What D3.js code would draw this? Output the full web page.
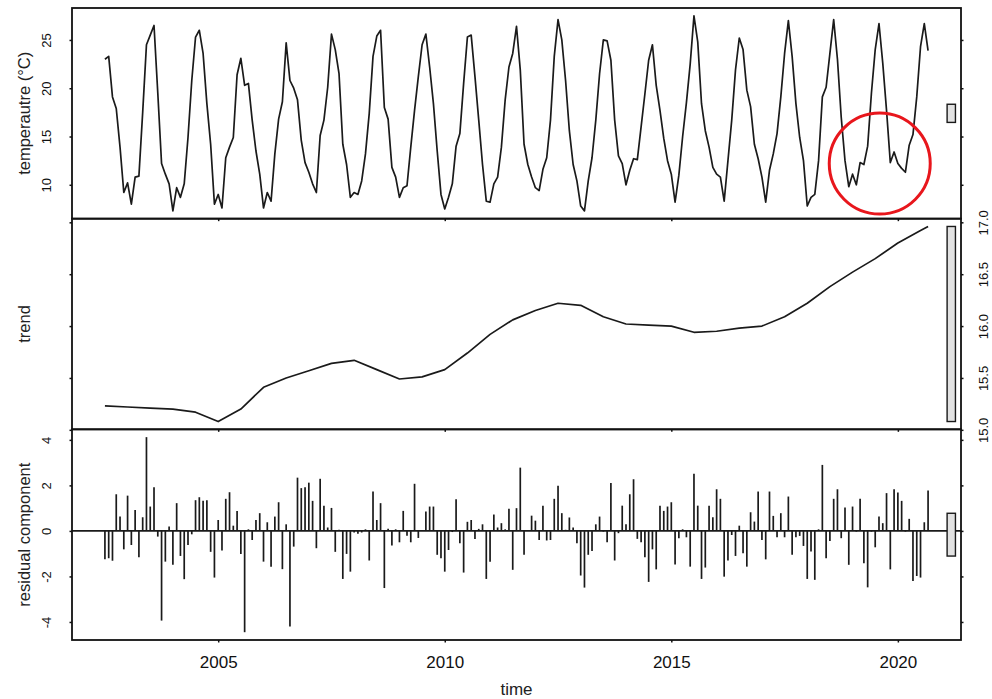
<!DOCTYPE html>
<html>
<head>
<meta charset="utf-8">
<script src="https://cdn.jsdelivr.net/npm/d3@7"></script>
<style>
  body { margin: 0; background: #fff; }
  svg { display: block; }
</style>
</head>
<body>
<div id="chart"></div>
<script>
// Monthly series, July 2002 to September 2020
var seriesStart = 2002.5;

// observed temperature (°C), one value per month
var temperature = [
    23.0, 23.3, 19.1, 17.9, 13.9, 9.2,
    10.2, 8.0, 10.8, 10.9, 17.5, 24.5, 25.5, 26.5, 19.5, 12.2, 11.1, 10.1,
    7.3, 9.7, 8.7, 10.1, 14.9, 20.8, 25.3, 26.0, 23.6, 18.4, 14.2, 8.0,
    9.0, 7.6, 12.8, 13.9, 14.9, 21.4, 23.1, 20.3, 20.5, 16.7, 13.5, 11.1,
    7.6, 9.2, 8.3, 13.2, 16.8, 18.6, 24.7, 20.8, 20.0, 18.8, 14.6, 12.3,
    11.3, 10.1, 9.2, 15.1, 16.7, 20.1, 25.6, 24.0, 21.5, 14.2, 12.1, 8.7,
    9.2, 9.0, 10.4, 13.2, 17.4, 23.3, 25.4, 26.0, 18.0, 16.8, 11.8, 10.8,
    8.7, 9.7, 9.9, 13.9, 17.7, 21.2, 24.5, 25.6, 22.2, 18.4, 13.5, 9.0,
    7.5, 8.7, 10.1, 14.0, 15.3, 20.5, 25.3, 25.5, 21.2, 16.7, 12.1, 8.3,
    8.2, 10.1, 10.8, 13.9, 18.8, 22.2, 23.6, 26.4, 21.9, 14.2, 12.1, 10.8,
    9.7, 9.4, 11.6, 12.8, 16.7, 23.3, 27.1, 25.0, 20.8, 15.6, 12.1, 10.4,
    7.8, 7.3, 10.4, 12.8, 16.7, 21.5, 25.0, 24.9, 22.9, 16.7, 13.0, 12.2,
    10.0, 11.5, 12.7, 12.6, 16.0, 19.4, 22.9, 24.5, 20.3, 17.7, 14.8, 12.5,
    11.1, 8.2, 11.0, 15.0, 18.5, 22.5, 27.5, 24.8, 18.4, 15.6, 13.9, 11.8,
    11.1, 10.8, 8.3, 12.5, 16.7, 21.9, 25.2, 24.0, 19.8, 18.1, 14.2, 12.7,
    10.8, 8.2, 11.5, 13.2, 15.3, 19.1, 23.6, 27.0, 23.3, 18.4, 14.9, 12.5,
    7.8, 8.7, 9.0, 12.5, 19.1, 20.1, 23.6, 27.1, 23.0, 17.0, 12.5, 9.8,
    11.1, 10.0, 12.3, 12.1, 14.0, 19.5, 24.0, 26.7, 22.6, 17.7, 12.3, 13.4,
    12.2, 11.7, 11.3, 14.1, 15.2, 19.1, 24.3, 26.7, 23.9
];

// remainder after removing trend and season, one value per month
var residual = [
    -1.25, -1.20, -1.31, 1.61, 0.63, -0.81,
    1.55, -0.62, 0.92, -1.16, 0.60, 4.12, 1.07, 1.92, -0.25, -3.94, -1.35, 0.19,
    -1.49, 1.22, -1.10, -2.12, -0.62, -0.15, 1.35, 1.48, 1.32, 1.35, -0.92, -2.05,
    0.48, -0.86, 1.41, 1.70, 0.23, 0.88, -1.01, -4.45, 0.07, -0.40, 0.48, 0.78,
    -1.35, 0.38, -1.57, 0.63, 1.26, -1.68, 0.29, -4.20, -0.69, 2.34, 1.88, 1.92,
    2.12, 1.32, -0.76, 2.29, 1.11, 0.15, 1.01, -0.92, 0.05, -2.11, -1.01, -1.79,
    -0.07, -0.13, -0.07, 0.07, -1.30, 1.73, 0.48, 1.22, -2.51, 0.10, -0.64, 0.07,
    -0.50, 0.88, -0.21, -0.50, 2.07, -0.31, 0.04, 0.85, 1.07, 1.07, -1.05, -1.20,
    -1.79, -0.84, -0.05, 1.39, -0.54, -1.83, 0.40, 0.48, -0.35, 0.09, 0.29, -2.11,
    -1.35, 0.72, 0.15, 0.34, 0.07, 0.97, -1.71, 1.00, 2.78, -1.05, 0.02, 0.67,
    0.45, -0.40, 1.11, -0.42, -0.40, 1.41, 1.98, 0.78, 0.05, 0.59, 0.15, -0.54,
    -1.96, -2.49, -1.05, -0.88, 0.29, 0.63, -0.03, -0.50, 2.10, -1.30, -0.10, 1.11,
    0.29, 1.61, 2.27, -0.35, -0.50, -1.16, -2.24, -0.81, -1.69, 1.11, 0.88, 1.07,
    1.26, -1.48, -0.32, 0.07, -0.28, -1.57, 2.51, 1.11, -2.11, -1.61, 1.11, 0.60,
    1.83, 1.41, -2.01, -1.30, -0.18, -1.10, 0.23, -0.98, -1.57, 0.82, 0.41, 1.73,
    -0.40, -1.25, 1.73, 0.66, -0.28, 0.78, -0.28, 1.51, -1.05, -0.28, -0.22, -0.66,
    -2.11, -0.91, -2.15, 0.07, 2.90, -1.20, -0.44, 1.41, 1.83, -0.32, 1.03, -1.49,
    1.07, -0.03, 1.41, -1.42, -2.48, -0.03, -0.72, 0.63, 0.34, 1.66, -1.69, 1.83,
    1.69, 1.32, -0.03, 0.53, -2.20, -1.98, -2.05, 0.38, 1.77
];

// trend read every half year
var trendTime = [2002.5, 2003.0, 2003.5, 2004.0, 2004.5, 2005.0, 2005.5, 2006.0, 2006.5,
    2007.0, 2007.5, 2008.0, 2008.5, 2009.0, 2009.5, 2010.0, 2010.5, 2011.0, 2011.5,
    2012.0, 2012.5, 2013.0, 2013.5, 2014.0, 2014.5, 2015.0, 2015.5, 2016.0, 2016.5,
    2017.0, 2017.5, 2018.0, 2018.5, 2019.0, 2019.5, 2020.0, 2020.5, 2020.667];
var trendValue = [15.23, 15.22, 15.21, 15.20, 15.17, 15.08, 15.20, 15.41, 15.50,
    15.57, 15.64, 15.67, 15.58, 15.49, 15.51, 15.58, 15.74, 15.92, 16.06,
    16.15, 16.22, 16.20, 16.09, 16.02, 16.01, 16.00, 15.94, 15.95, 15.98,
    16.00, 16.09, 16.22, 16.38, 16.52, 16.65, 16.80, 16.92, 16.96];

var yearTicks = [2005, 2010, 2015, 2020];
var tempTicks = [10, 15, 20, 25];
var trendTicks = [15.0, 15.5, 16.0, 16.5, 17.0];
var residTicks = [-4, -2, 0, 2, 4];
var panelLabels = ["temperautre (°C)", "trend", "residual component"];
var xLabel = "time";

// red circle drawn round the winter 2019 dip
var circleTime = 2019.6;
var circleTemp = 12.2;

var svgWidth = 992;
var svgHeight = 699;
var margin = { top: 8, right: 31, bottom: 59, left: 72 };
var plotWidth = svgWidth - margin.left - margin.right;
var panelHeight = (svgHeight - margin.top - margin.bottom) / 3;
var font = "'Liberation Sans', Arial, sans-serif";
var ink = "#1a1a1a";

var svg = d3.select("#chart")
    .append("svg")
    .attr("width", svgWidth)
    .attr("height", svgHeight)
    .style("font-family", font);

// R extends each range by 4% on both sides
function padRange(ext) {
    var d = (ext[1] - ext[0]) * 0.04;
    return [ext[0] - d, ext[1] + d];
}

var time = temperature.map(function (d, i) { return seriesStart + i / 12; });

var xScale = d3.scaleLinear()
    .domain(padRange(d3.extent(time)))
    .range([0, plotWidth]);

var panels = [
    { times: time, values: temperature, ticks: tempTicks, fmt: d3.format("d"), type: "line" },
    { times: trendTime, values: trendValue, ticks: trendTicks, fmt: d3.format(".1f"), type: "line" },
    { times: time, values: residual, ticks: residTicks, fmt: function (d) { return String(d); }, type: "bars" }
];

// range bars all have the height of the smallest component range
var minRange = d3.min(panels, function (p) {
    var e = d3.extent(p.values);
    return e[1] - e[0];
});

panels.forEach(function (p, i) {
    var ext = d3.extent(p.values);
    var yScale = d3.scaleLinear()
        .domain(padRange(ext))
        .range([panelHeight, 0]);

    var g = svg.append("g")
        .attr("transform", `translate(${margin.left}, ${margin.top + i * panelHeight})`);

    if (p.type === "line") {
        var line = d3.line()
            .x(function (d, j) { return xScale(p.times[j]); })
            .y(function (d) { return yScale(d); });
        g.append("path")
            .datum(p.values)
            .attr("d", line)
            .attr("fill", "none")
            .attr("stroke", ink)
            .attr("stroke-width", 1.7)
            .attr("stroke-linejoin", "round");
    } else {
        g.append("line")
            .attr("x1", 0)
            .attr("x2", plotWidth)
            .attr("y1", yScale(0))
            .attr("y2", yScale(0))
            .attr("stroke", ink)
            .attr("stroke-width", 1.8);
        g.selectAll(".bar")
            .data(p.values)
            .enter()
            .append("line")
            .attr("class", "bar")
            .attr("x1", function (d, j) { return xScale(p.times[j]); })
            .attr("x2", function (d, j) { return xScale(p.times[j]); })
            .attr("y1", yScale(0))
            .attr("y2", function (d) { return yScale(d); })
            .attr("stroke", ink)
            .attr("stroke-width", 1.7);
    }

    // range bar at the right edge
    var dx = plotWidth / 64;
    var mid = (ext[0] + ext[1]) / 2;
    g.append("rect")
        .attr("x", plotWidth - dx)
        .attr("width", dx * 0.6)
        .attr("y", yScale(mid + minRange / 2))
        .attr("height", yScale(mid - minRange / 2) - yScale(mid + minRange / 2))
        .attr("fill", "#e2e2e2")
        .attr("stroke", ink)
        .attr("stroke-width", 1.4);

    // frame
    g.append("rect")
        .attr("width", plotWidth)
        .attr("height", panelHeight)
        .attr("fill", "none")
        .attr("stroke", "#111")
        .attr("stroke-width", 1.8);

    var labelsRight = i % 2 === 1;

    var leftAxis = d3.axisLeft(yScale)
        .tickValues(p.ticks)
        .tickSizeInner(2.5).tickSizeOuter(0)
        .tickFormat(labelsRight ? "" : p.fmt);
    var rightAxis = d3.axisRight(yScale)
        .tickValues(p.ticks)
        .tickSizeInner(2.5).tickSizeOuter(0)
        .tickFormat(labelsRight ? p.fmt : "");
    var bottomAxis = d3.axisBottom(xScale)
        .tickValues(yearTicks)
        .tickSizeInner(2.5).tickSizeOuter(0)
        .tickFormat(i === panels.length - 1 ? d3.format("d") : "");

    var gl = g.append("g").call(leftAxis);
    var gr = g.append("g").attr("transform", `translate(${plotWidth}, 0)`).call(rightAxis);
    var gb = g.append("g").attr("transform", `translate(0, ${panelHeight})`).call(bottomAxis);

    [gl, gr, gb].forEach(function (a) {
        a.select(".domain").remove();
        a.selectAll(".tick line").attr("stroke", "#111").attr("stroke-width", 1.5);
        a.selectAll("text").attr("font-family", font).attr("fill", "#111");
    });

    // vertical tick labels, parallel to the axis
    gl.selectAll(".tick text")
        .attr("transform", "rotate(-90)")
        .attr("x", 0).attr("y", -21).attr("dy", 0)
        .attr("text-anchor", "middle")
        .attr("font-size", 13);
    gr.selectAll(".tick text")
        .attr("transform", "rotate(-90)")
        .attr("x", 0).attr("y", 27).attr("dy", 0)
        .attr("text-anchor", "middle")
        .attr("font-size", 13);
    gb.selectAll(".tick text")
        .attr("y", 28).attr("dy", 0)
        .attr("font-size", 17);

    // panel title
    g.append("text")
        .attr("transform", `translate(-42, ${panelHeight / 2}) rotate(-90)`)
        .attr("text-anchor", "middle")
        .attr("font-size", 16.5)
        .attr("fill", "#222")
        .text(panelLabels[i]);

    if (i === 0) {
        g.append("circle")
            .attr("cx", xScale(circleTime))
            .attr("cy", yScale(circleTemp))
            .attr("r", 50.5)
            .attr("fill", "none")
            .attr("stroke", "#e8161c")
            .attr("stroke-width", 3);
    }
});

// x axis title
svg.append("text")
    .attr("x", margin.left + plotWidth / 2)
    .attr("y", svgHeight - 4)
    .attr("text-anchor", "middle")
    .attr("font-size", 17)
    .attr("fill", "#222")
    .text(xLabel);
</script>
</body>
</html>
